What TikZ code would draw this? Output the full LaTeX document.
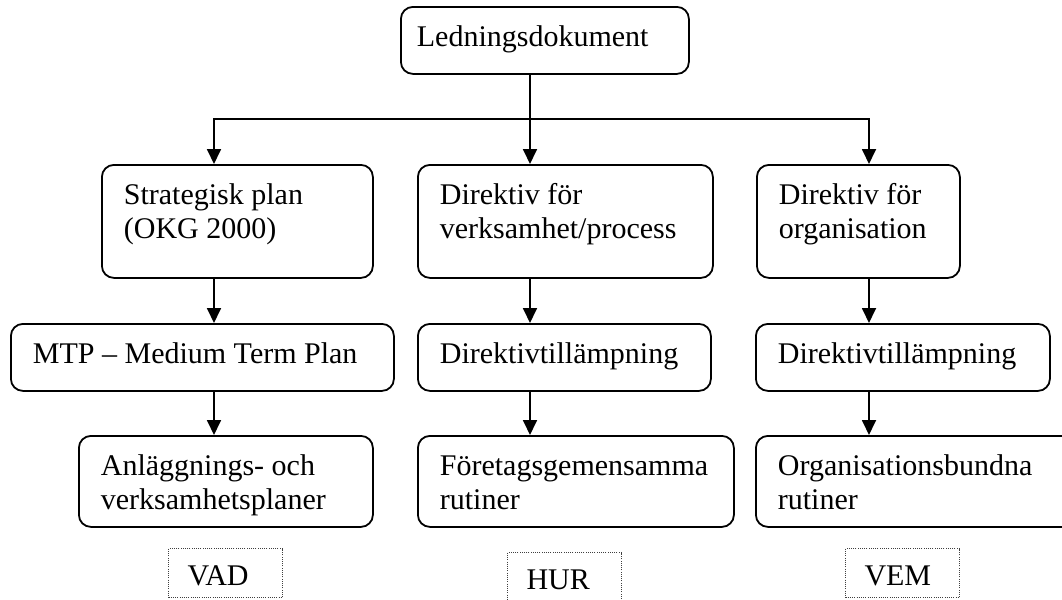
\documentclass[tikz,border=0pt]{standalone}
\usepackage{fontspec}
\setmainfont{Liberation Serif}
\usetikzlibrary{arrows.meta,positioning}

\begin{document}
\begin{tikzpicture}[
  x=0.5pt,y=-0.5pt,
  font=\fontsize{15pt}{17pt}\selectfont,
  line width=0.9pt,
  box/.style={draw,rounded corners=6pt,anchor=north west,align=flush left,inner xsep=11pt,inner ysep=0pt,text height=20pt},
  rowa/.style={text depth=36.5pt},
  rowb/.style={text depth=13.5pt},
  rowc/.style={text depth=25.5pt},
  tag/.style={draw=black!75,line width=0.5pt,dash pattern=on 0.5pt off 0.6pt,anchor=north west,align=flush left,inner xsep=9.5pt,inner ysep=0pt,text height=18.5pt,text depth=6pt,text width=38pt},
  >={Triangle[length=7.5pt,width=7pt]}]
\useasboundingbox (0,0) rectangle (1062,600);
\node[box,rowb,inner xsep=8pt,text width=128pt] (led) at (400,6) {Ledningsdokument};
\node[box,rowa,text width=113.5pt] (strat) at (101,164) {Strategisk plan\\(OKG 2000)};
\node[box,rowa,text width=125.5pt] (dirvp) at (417,164) {Direktiv för\\verksamhet/process};
\node[box,rowa,text width=79.5pt] (dirorg) at (756,164) {Direktiv för\\organisation};
\node[box,rowb,text width=169.5pt] (mtp) at (10,323) {MTP – Medium Term Plan};
\node[box,rowb,text width=124.5pt] (tillvp) at (417,323) {Direktivtillämpning};
\node[box,rowb,text width=125pt] (tillorg) at (755,323) {Direktivtillämpning};
\node[box,rowc,text width=125pt] (anl) at (78,435) {Anläggnings- och\\verksamhetsplaner};
\node[box,rowc,text width=136pt] (ftg) at (417,435) {Företagsgemensamma\\rutiner};
\node[box,rowc,text width=143pt] (orgb) at (755,435) {Organisationsbundna\\rutiner};
\node[tag] (vad) at (168,548) {VAD};
\node[tag] (hur) at (507,552) {HUR};
\node[tag] (vem) at (845,548) {VEM};
\coordinate (ka) at (214,119);
\coordinate (kb) at (530,119);
\coordinate (kc) at (869,119);
\draw[->] (led.south -| kb) -- (dirvp.north -| kb);
\draw[->] (kb) -| (strat.north -| ka);
\draw[->] (kb) -| (dirorg.north -| kc);
\draw[->] (strat.south -| ka) -- (mtp.north -| ka);
\draw[->] (mtp.south -| ka) -- (anl.north -| ka);
\draw[->] (dirvp.south -| kb) -- (tillvp.north -| kb);
\draw[->] (tillvp.south -| kb) -- (ftg.north -| kb);
\draw[->] (dirorg.south -| kc) -- (tillorg.north -| kc);
\draw[->] (tillorg.south -| kc) -- (orgb.north -| kc);
\end{tikzpicture}
\end{document}
